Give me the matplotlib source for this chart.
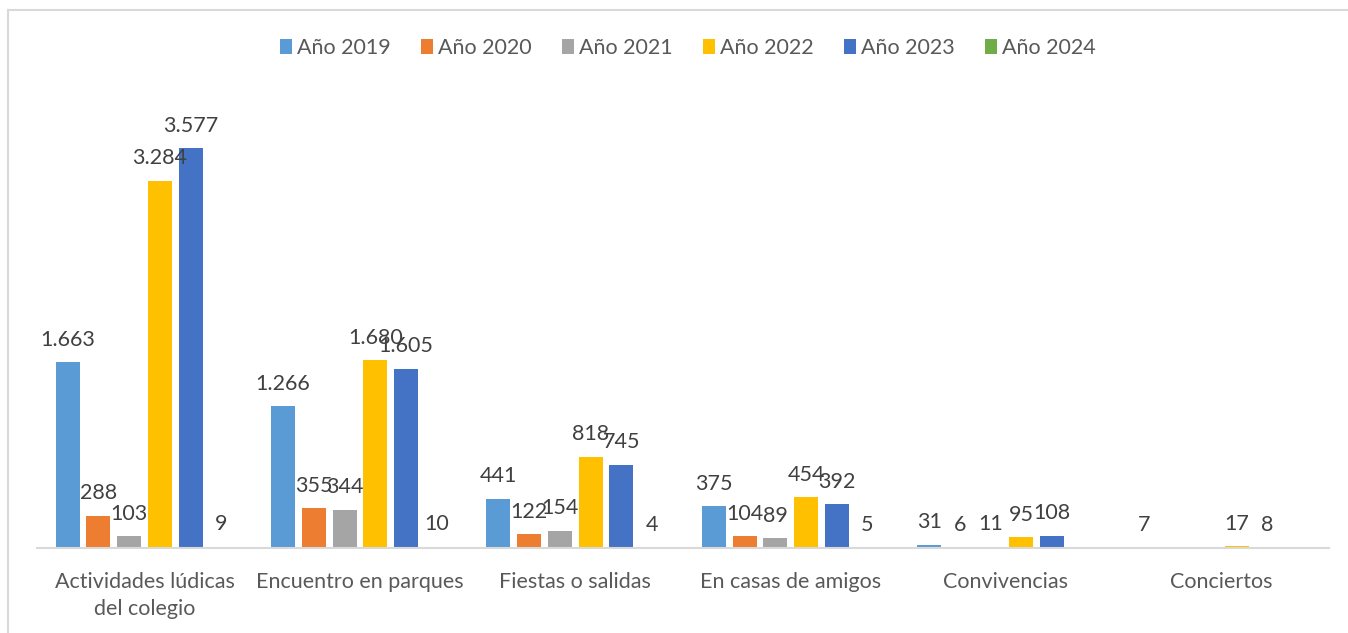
import numpy as np
import matplotlib.pyplot as plt
from matplotlib.lines import Line2D

plt.rcParams['font.family'] = ['Lato', 'DejaVu Sans']

categorias = ['Actividades lúdicas\ndel colegio', 'Encuentro en parques', 'Fiestas o salidas',
              'En casas de amigos', 'Convivencias', 'Conciertos']
series = ['Año 2019', 'Año 2020', 'Año 2021', 'Año 2022', 'Año 2023', 'Año 2024']
anio_2019 = [1663, 1266, 441, 375, 31, 7]
anio_2020 = [288, 355, 122, 104, 6, np.nan]
anio_2021 = [103, 344, 154, 89, 11, np.nan]
anio_2022 = [3284, 1680, 818, 454, 95, 17]
anio_2023 = [3577, 1605, 745, 392, 108, 8]
anio_2024 = [9, 10, 4, 5, np.nan, np.nan]
valores = [anio_2019, anio_2020, anio_2021, anio_2022, anio_2023, anio_2024]
colores = ['#5B9BD5', '#ED7D31', '#A5A5A5', '#FFC000', '#4472C4', '#70AD47']


def formato(v):
    return f'{int(v):,}'.replace(',', '.')


fig = plt.figure(figsize=(13.48, 6.33), dpi=100)
ax = fig.add_axes([0.0274, 0.1343, 0.9585, 0.7066])

x = np.arange(len(categorias))
paso = 0.1428
ancho = 0.1115
for i, (nombre, vals, col) in enumerate(zip(series, valores, colores)):
    pos = x + (i - 2.5) * paso
    barras = ax.bar(pos, vals, ancho, color=col, label=nombre, zorder=2)
    etiquetas = ['' if np.isnan(v) else formato(v) for v in vals]
    ax.bar_label(barras, labels=etiquetas, padding=9, fontsize=15.5, color='#404040')

ax.set_xlim(-0.5, len(categorias) - 0.5)
ax.set_ylim(0, 4000)
ax.set_yticks([])
ax.set_xticks(x)
ax.set_xticklabels(categorias, fontsize=15.5, color='#595959', linespacing=1.45)
ax.tick_params(axis='x', length=0, pad=17)
for lado in ['top', 'right', 'left']:
    ax.spines[lado].set_visible(False)
ax.spines['bottom'].set_color('#D9D9D9')
ax.spines['bottom'].set_linewidth(1.5)

ax.legend(loc='center', bbox_to_anchor=(688 / 1348, 1 - 48 / 633), bbox_transform=fig.transFigure,
          ncol=6, frameon=False, fontsize=15.5, labelcolor='#595959',
          handlelength=0.55, handleheight=0.75, handletextpad=0.25, columnspacing=1.4)

# marco exterior del gráfico
fig.add_artist(Line2D([8 / 1348, 8 / 1348], [0, 1 - 10 / 633], color='#D9D9D9', lw=1.5,
                      transform=fig.transFigure))
fig.add_artist(Line2D([8 / 1348, 1], [1 - 10 / 633, 1 - 10 / 633], color='#D9D9D9', lw=1.5,
                      transform=fig.transFigure))

fig.savefig('out.png', dpi=100)
